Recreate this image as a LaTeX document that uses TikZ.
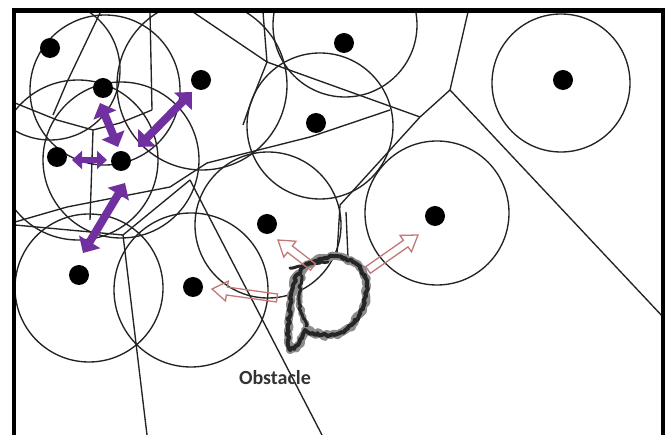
\documentclass[tikz,border=0pt]{standalone}
\usepackage{fontspec}
\setmainfont{Carlito}
\usetikzlibrary{arrows.meta,calc,decorations.pathmorphing}
\definecolor{vpurple}{RGB}{112,48,160}
\definecolor{ink}{RGB}{35,35,35}
\definecolor{hollow}{RGB}{195,120,120}
\newcommand{\hollowarr}[1]{%
  \coordinate (#1h) at ($(#1p)!15pt!(#1t)$);
  \draw[hollowstyle] ($(#1t)!4pt!90:(#1p)$) -- ($(#1h)!4pt!90:(#1p)$) -- ($(#1h)!10pt!90:(#1p)$) -- (#1p) -- ($(#1h)!10pt!-90:(#1p)$) -- ($(#1h)!4pt!-90:(#1p)$) -- ($(#1t)!4pt!-90:(#1p)$) -- cycle;}
\newcommand{\blobpath}{(305,266) -- (315,261) -- (325,258) -- (335,256) -- (345,258) -- (353,262) -- (360,268) -- (364,276) -- (367,285) -- (366,295) -- (364,305) -- (360,314) -- (355,322) -- (348,328) -- (340,333) -- (331,335) -- (322,335) -- (312,333) -- (305,330) -- (302,338) -- (298,345) -- (290,350) -- (288,340) -- (288,330) -- (289,318) -- (290,305) -- (291,295) -- (293,285) -- (298,274) -- cycle}
\begin{document}
\begin{tikzpicture}[x=1pt,y=-1pt,
  ring/.style={draw=ink, line width=1.35pt},
  vline/.style={draw=ink, line width=1.35pt},
  dot/.style={circle, fill=black, minimum size=20pt, inner sep=0pt},
  purplearrow/.style={draw=vpurple, line width=8pt, {Triangle[width=24pt,length=13pt]}-{Triangle[width=24pt,length=13pt]}},
  hollowstyle/.style={draw=hollow, line width=1.3pt, line join=miter},
  blob/.style={draw=black!85, line width=4pt, line join=round, line cap=round,
    decorate, decoration={random steps, segment length=2.5pt, amplitude=1.5pt}},
  halo/.style={draw=black!45, line width=8pt, line join=round, line cap=round,
    decorate, decoration={random steps, segment length=3pt, amplitude=2pt}}]
\useasboundingbox (0,0) rectangle (670,435);
\fill[white] (0,0) rectangle (670,435);
\begin{scope}
\clip (16,13) rectangle (661,435);
% sensing circles
\draw[ring] (50,70) circle[radius=70];
\draw[ring] (105,90) circle[radius=75];
\draw[ring] (202,85) circle[radius=85];
\draw[ring] (345,25) circle[radius=72];
\draw[ring] (561,83) circle[radius=69];
\draw[ring] (320,126) circle[radius=73];
\draw[ring] (78,160) circle[radius=80];
\draw[ring] (121,160) circle[radius=78];
\draw[ring] (268,225) circle[radius=73];
\draw[ring] (437,213) circle[radius=72];
\draw[ring] (89,288) circle[radius=74];
\draw[ring] (191,290) circle[radius=77];
% voronoi lines
\draw[vline] (468,12) -- (450,90) -- (664,318);
\draw[vline] (450,90) -- (420,117) -- (340,205) -- (337,255);
\draw[vline] (193,12) -- (267,62) -- (420,117);
\draw[vline] (263,12) -- (267,62) -- (250,105) -- (243,125);
\draw[vline] (100,13) -- (67,82) -- (53,115);
\draw[vline] (150,12) -- (152,110);
\draw[vline] (15,103) -- (57,120) -- (93,130) -- (120,123) -- (152,110);
\draw[vline] (93,130) -- (90,220);
\draw[vline] (15,222) -- (67,207) -- (170,187) -- (207,163) -- (310,137) -- (390,110);
\draw[vline] (15,225) -- (123,235) -- (147,435);
\draw[vline] (123,235) -- (190,180);
\draw[vline] (190,180) -- (322,435);
\draw[vline] (346,212) -- (348,258);
\end{scope}
% obstacle
\pgfmathsetseed{7}
\draw[halo] \blobpath;
\draw[halo, line width=6pt] (302,276) -- (300,288) -- (299,300) -- (301,313) -- (306,326);
\draw[blob] \blobpath;
\draw[blob, line width=3pt] (302,276) -- (300,288) -- (299,300) -- (301,313) -- (306,326);
\draw[blob, line width=3pt] (290,268) -- (300,266) -- (310,264) -- (320,263) -- (328,262);
% purple arrows
\coordinate (a1s) at (100,103); \coordinate (a1e) at (118,147);
\coordinate (a2s) at (138,147); \coordinate (a2e) at (192,92);
\coordinate (a3s) at (72,160);  \coordinate (a3e) at (107,160);
\coordinate (a4s) at (83,253);  \coordinate (a4e) at (125,183);
\draw[purplearrow] (a1s) -- (a1e);
\draw[purplearrow] (a2s) -- (a2e);
\draw[purplearrow, line width=6pt, {Triangle[width=18pt,length=10pt]}-{Triangle[width=18pt,length=10pt]}] (a3s) -- (a3e);
\draw[purplearrow] (a4s) -- (a4e);
% hollow arrows
\coordinate (b1t) at (313,267); \coordinate (b1p) at (278,240);
\coordinate (b2t) at (277,298); \coordinate (b2p) at (212,289);
\coordinate (b3t) at (368,270); \coordinate (b3p) at (418,235);
\hollowarr{b1}
\hollowarr{b2}
\hollowarr{b3}
% nodes
\node[dot] (d1) at (50,48) {};
\node[dot] (d2) at (103,88) {};
\node[dot] (d3) at (201,80) {};
\node[dot] (d4) at (344,43) {};
\node[dot] (d5) at (563,80) {};
\node[dot] (d6) at (316,123) {};
\node[dot] (d7) at (57,157) {};
\node[dot] (d8) at (121,161) {};
\node[dot] (d9) at (267,224) {};
\node[dot] (d10) at (435,216) {};
\node[dot] (d11) at (79,275) {};
\node[dot] (d12) at (193,287) {};
\node[text=black!80, font=\fontsize{20}{24}\selectfont\bfseries] (obs) at (275,378) {Obstacle};
% frame
\draw[line width=4.5pt, line join=miter] (14,435) -- (14,10.5) -- (663,10.5) -- (663,435);
\end{tikzpicture}
\end{document}
